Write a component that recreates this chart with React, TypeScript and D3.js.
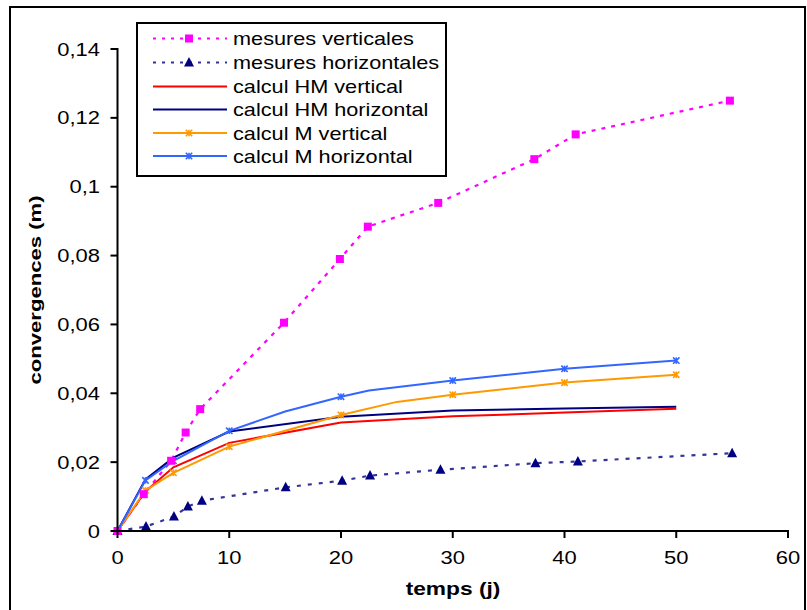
import React from "react";
import * as d3 from "d3";

// ---- data (temps in days, convergence in m) ----
const mesuresVerticales: [number, number][] = [
  [0, 0], [2.35, 0.0107], [4.8, 0.0204], [6.1, 0.0286], [7.4, 0.0354],
  [14.9, 0.0605], [19.9, 0.079], [22.4, 0.0884], [28.7, 0.0953],
  [37.3, 0.108], [41, 0.1152], [54.8, 0.125],
];
const mesuresHorizontales: [number, number][] = [
  [0, 0], [2.55, 0.0013], [5.05, 0.0042], [6.3, 0.0071], [7.55, 0.0088],
  [15.05, 0.0127], [20.1, 0.0146], [22.6, 0.0161], [28.9, 0.0178],
  [37.4, 0.0197], [41.2, 0.0202], [55, 0.0226],
];
const calcHMVertical: [number, number][] = [
  [0, 0], [2.5, 0.0115], [5, 0.0185], [10, 0.0256], [20, 0.0315],
  [30, 0.0333], [40, 0.0344], [50, 0.0355],
];
const calcHMHorizontal: [number, number][] = [
  [0, 0], [2.5, 0.015], [5, 0.0213], [10, 0.0289], [20, 0.0332],
  [30, 0.035], [40, 0.0356], [50, 0.0361],
];
const calcMVertical: [number, number][] = [
  [0, 0], [2.5, 0.0118], [5, 0.0169], [10, 0.0245], [20, 0.0337],
  [25, 0.0375], [30, 0.0396], [40, 0.0431], [50, 0.0454],
];
const calcMHorizontal: [number, number][] = [
  [0, 0], [2.5, 0.0147], [5, 0.0204], [10, 0.0291], [15, 0.0347],
  [20, 0.039], [22.5, 0.0408], [30, 0.0437], [40, 0.0471], [50, 0.0495],
];
const markerTimes = [0, 2.5, 5, 10, 20, 30, 40, 50];

const xTicks = [0, 10, 20, 30, 40, 50, 60];
const yTicks = [0, 0.02, 0.04, 0.06, 0.08, 0.1, 0.12, 0.14];

const legendLabels = [
  "mesures verticales",
  "mesures horizontales",
  "calcul HM vertical",
  "calcul HM horizontal",
  "calcul M vertical",
  "calcul M horizontal",
];

const C_MAG = "#FF00FF";
const C_NAVY = "#000080";
const C_NAVY_DASH = "#333399";
const C_RED = "#FF0000";
const C_ORANGE = "#FF9900";
const C_BLUE = "#3366FF";

const FONT = "'Liberation Sans', Arial, sans-serif";

function Star({ x, y, color }: { x: number; y: number; color: string }) {
  const s = 3.2;
  return (
    <g stroke={color} strokeWidth={1.6}>
      <line x1={x - s} y1={y - s} x2={x + s} y2={y + s} />
      <line x1={x - s} y1={y + s} x2={x + s} y2={y - s} />
      <line x1={x} y1={y - s} x2={x} y2={y + s} />
    </g>
  );
}

function Square({ x, y }: { x: number; y: number }) {
  return <rect x={x - 4} y={y - 4} width={8} height={8} fill={C_MAG} />;
}

function Tri({ x, y }: { x: number; y: number }) {
  return <path d={`M${x},${y - 5.5}L${x + 5},${y + 4}L${x - 5},${y + 4}Z`} fill={C_NAVY} />;
}

export default function App() {
  const x = d3.scaleLinear().domain([0, 60]).range([117.5, 788]);
  const y = d3.scaleLinear().domain([0, 0.14]).range([531, 49]);
  const line = d3
    .line<[number, number]>()
    .x((d) => x(d[0]))
    .y((d) => y(d[1]));

  const fmt = (v: number) => (v === 0 ? "0" : String(+v.toFixed(2)).replace(".", ","));
  const SX = 1.22;

  const legX0 = 153;
  const legX1 = 227;
  const legMid = 189;
  const legRows = [38.5, 62.5, 86.5, 109.5, 133, 156];

  return (
    <svg
      width={807}
      height={610}
      style={{ position: "absolute", left: 0, top: 0, background: "#fff" }}
      fontFamily={FONT}
    >
      <rect x={0} y={0} width={807} height={610} fill="#fff" />
      {/* outer frame */}
      <rect x={10} y={7} width={795} height={610} fill="none" stroke="#000" strokeWidth={2} />

      {/* series */}
      <path d={line(mesuresVerticales) || ""} fill="none" stroke={C_MAG} strokeWidth={2.2} strokeDasharray="4,6" />
      <path d={line(mesuresHorizontales) || ""} fill="none" stroke={C_NAVY_DASH} strokeWidth={2.2} strokeDasharray="4,7" />
      <path d={line(calcHMVertical) || ""} fill="none" stroke={C_RED} strokeWidth={2} />
      <path d={line(calcHMHorizontal) || ""} fill="none" stroke={C_NAVY} strokeWidth={2} />
      <path d={line(calcMVertical) || ""} fill="none" stroke={C_ORANGE} strokeWidth={2} />
      <path d={line(calcMHorizontal) || ""} fill="none" stroke={C_BLUE} strokeWidth={2} />

      {calcMVertical
        .filter((d) => markerTimes.includes(d[0]))
        .map((d, i) => <Star key={"ov" + i} x={x(d[0])} y={y(d[1])} color={C_ORANGE} />)}
      {calcMHorizontal
        .filter((d) => markerTimes.includes(d[0]))
        .map((d, i) => <Star key={"bh" + i} x={x(d[0])} y={y(d[1])} color={C_BLUE} />)}
      {mesuresHorizontales.map((d, i) => (
        <Tri key={"t" + i} x={x(d[0])} y={y(d[1])} />
      ))}
      {mesuresVerticales.map((d, i) => (
        <Square key={"s" + i} x={x(d[0])} y={y(d[1])} />
      ))}

      {/* axes */}
      <line x1={x(0)} y1={y(0.14) - 1} x2={x(0)} y2={y(0) + 1} stroke="#000" strokeWidth={2} />
      <line x1={x(0) - 1} y1={y(0)} x2={x(60) + 1} y2={y(0)} stroke="#000" strokeWidth={2} />
      {yTicks.map((t) => (
        <g key={"yt" + t}>
          <line x1={x(0) - 7} x2={x(0)} y1={y(t)} y2={y(t)} stroke="#000" strokeWidth={2} />
          <text
            transform={`translate(100,${y(t) + 6.5}) scale(${SX},1)`}
            textAnchor="end"
            fontSize={18}
            fill="#000"
          >
            {fmt(t)}
          </text>
        </g>
      ))}
      {xTicks.map((t) => (
        <g key={"xt" + t}>
          <line x1={x(t)} x2={x(t)} y1={y(0)} y2={y(0) + 7} stroke="#000" strokeWidth={2} />
          <text
            transform={`translate(${x(t)},564) scale(${SX},1)`}
            textAnchor="middle"
            fontSize={18}
            fill="#000"
          >
            {t}
          </text>
        </g>
      ))}

      {/* axis titles */}
      <text
        transform={`translate(453,595) scale(1.3,1)`}
        textAnchor="middle"
        fontSize={17.5}
        fontWeight="bold"
        fill="#000"
      >
        temps (j)
      </text>
      <text
        transform={`translate(41,290) rotate(-90) scale(1.3,1)`}
        textAnchor="middle"
        fontSize={17}
        fontWeight="bold"
        fill="#000"
      >
        convergences (m)
      </text>

      {/* legend */}
      <rect x={137} y={23} width={309} height={153} fill="#fff" stroke="#000" strokeWidth={2} />
      {legendLabels.map((lab, i) => {
        const ly = legRows[i];
        let sample: React.ReactNode = null;
        if (i === 0)
          sample = (
            <>
              <line x1={legX0} x2={legX1} y1={ly} y2={ly} stroke={C_MAG} strokeWidth={2} strokeDasharray="3,6" />
              <Square x={legMid} y={ly} />
            </>
          );
        else if (i === 1)
          sample = (
            <>
              <line x1={legX0} x2={legX1} y1={ly} y2={ly} stroke={C_NAVY_DASH} strokeWidth={2} strokeDasharray="3,6" />
              <Tri x={legMid} y={ly} />
            </>
          );
        else if (i === 2)
          sample = <line x1={legX0} x2={legX1} y1={ly} y2={ly} stroke={C_RED} strokeWidth={2} />;
        else if (i === 3)
          sample = <line x1={legX0} x2={legX1} y1={ly} y2={ly} stroke={C_NAVY} strokeWidth={2} />;
        else if (i === 4)
          sample = (
            <>
              <line x1={legX0} x2={legX1} y1={ly} y2={ly} stroke={C_ORANGE} strokeWidth={2} />
              <Star x={legMid} y={ly} color={C_ORANGE} />
            </>
          );
        else
          sample = (
            <>
              <line x1={legX0} x2={legX1} y1={ly} y2={ly} stroke={C_BLUE} strokeWidth={2} />
              <Star x={legMid} y={ly} color={C_BLUE} />
            </>
          );
        return (
          <g key={"lg" + i}>
            {sample}
            <text
              transform={`translate(233,${ly + 6.5}) scale(1.24,1)`}
              fontSize={17.5}
              fill="#000"
            >
              {lab}
            </text>
          </g>
        );
      })}
    </svg>
  );
}
